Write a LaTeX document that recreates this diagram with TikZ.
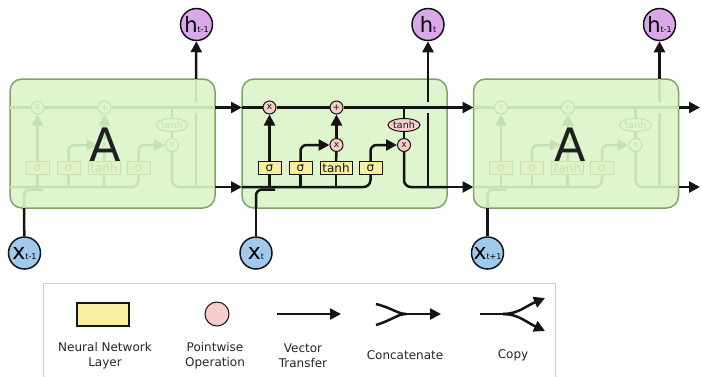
\documentclass[tikz,border=0pt]{standalone}
\usepackage{fontspec}
\setmainfont{DejaVu Sans}
\usetikzlibrary{arrows.meta,shapes.geometric}
\definecolor{blockfill}{RGB}{222,245,206}
\definecolor{blockdraw}{RGB}{125,165,105}
\definecolor{boxyellow}{RGB}{246,240,160}
\definecolor{pinkc}{RGB}{248,205,205}
\definecolor{hpurple}{RGB}{218,168,234}
\definecolor{xblue}{RGB}{160,202,236}
\definecolor{fadeln}{RGB}{198,226,180}
\definecolor{fadebox}{RGB}{226,242,198}
\definecolor{legdraw}{RGB}{205,205,205}
\definecolor{darkline}{RGB}{20,20,20}
\colorlet{lc}{darkline}
\colorlet{bf}{boxyellow}
\colorlet{cf}{pinkc}
\tikzset{
  ln/.style={line width=2.5pt, draw=lc},
  arr/.style={ln, -{Triangle[length=11pt,width=11pt]}},
  cellblk/.style={draw=blockdraw, fill=blockfill, line width=1.5pt, rounded corners=12pt,
    minimum width=205pt, minimum height=129pt, inner sep=0pt},
  nnlayer/.style={draw=lc, fill=bf, line width=1pt, minimum height=13pt, inner sep=0pt,
    text=lc, font=\fontsize{12}{12}\selectfont},
  pw/.style={circle, draw=lc, fill=cf, line width=1pt, minimum size=13pt, inner sep=0pt,
    text=lc, font=\fontsize{9}{9}\selectfont},
  tanhell/.style={ellipse, draw=lc, fill=cf, line width=1pt, minimum width=32pt,
    minimum height=13pt, inner sep=0pt, text=lc, font=\fontsize{9.5}{9.5}\selectfont},
  hcirc/.style={circle, draw=darkline, fill=hpurple, line width=1.5pt, minimum size=32pt, inner sep=0pt},
  xcirc/.style={circle, draw=darkline, fill=xblue, line width=1.5pt, minimum size=32pt, inner sep=0pt},
  bigA/.style={font=\fontsize{46}{46}\selectfont, text=black!88, inner sep=0pt},
  lgtext/.style={align=center, font=\fontsize{12}{15}\selectfont, text=black!85},
}
\newcommand\lstmcellbody{%
  \node[cellblk] (blk) at (344.5,143.5) {};
  \coordinate (tin) at (242,107.5);
  \coordinate (tout) at (447,107.5);
  \coordinate (bin) at (242,187);
  \coordinate (bout) at (447,187);
  \coordinate (xin) at (256,208);
  \coordinate (hout) at (428,79);
  \coordinate (hbot) at (428,187);
  \coordinate (crossA) at (428,113);
  \coordinate (crossB) at (428,102);
  \coordinate (tap) at (404,107.5);
  \node[nnlayer, minimum width=23pt] (sf) at (269.5,168) {σ};
  \node[nnlayer, minimum width=23pt] (si) at (300.5,168) {σ};
  \node[nnlayer, minimum width=32pt] (tg) at (336,168) {tanh};
  \node[nnlayer, minimum width=23pt] (so) at (370.5,168) {σ};
  \node[pw] (mf) at (269.5,107.5) {x};
  \node[pw] (ad) at (336.5,107.5) {+};
  \node[pw] (mi) at (336.5,145) {x};
  \node[pw] (mo) at (404,145) {x};
  \node[tanhell] (tc) at (404,125) {tanh};
  \draw[ln] (tin) -- (mf) -- (ad) -- (tout);
  \draw[ln] (tap) -- (tc);
  \draw[ln] (tc) -- (mo);
  \draw[ln, rounded corners=7pt] (mo) -- (mo |- bout) -- (bout);
  \draw[ln] (hbot) -- (crossA);
  \draw[ln] (crossB) -- (hout);
  \draw[ln, rounded corners=7pt] (bin) -- (so.south |- bin) -- (so.south);
  \draw[ln, rounded corners=6pt] (xin) -- (256,189.5) -- (275,189.5);
  \draw[ln] (sf.south |- bin) -- (sf);
  \draw[ln] (si.south |- bin) -- (si);
  \draw[ln] (tg.south |- bin) -- (tg);
  \draw[arr] (sf) -- (mf);
  \draw[arr, rounded corners=6pt] (si.north) -- (si.north |- mi) -- (mi.west);
  \draw[ln] (tg) -- (mi);
  \draw[arr] (mi) -- (ad);
  \draw[arr, rounded corners=6pt] (so.north) -- (so.north |- mo) -- (mo.west);
}
\begin{document}
\begin{tikzpicture}[x=1pt,y=-1pt]
\useasboundingbox (0,0) rectangle (701,376);
\fill[white] (0,0) rectangle (701,376);
% left cell (faded)
\begin{scope}[name prefix=L-, shift={(-232,0)}]
  \colorlet{lc}{fadeln}\colorlet{bf}{fadebox}\colorlet{cf}{blockfill}
  \lstmcellbody
  \node[bigA] (A) at (337,145) {A};
\end{scope}
% middle cell
\begin{scope}[name prefix=M-]
  \lstmcellbody
\end{scope}
% right cell (faded)
\begin{scope}[name prefix=R-, shift={(231.5,0)}]
  \colorlet{lc}{fadeln}\colorlet{bf}{fadebox}\colorlet{cf}{blockfill}
  \lstmcellbody
  \node[bigA] (A) at (339,145) {A};
\end{scope}
% inputs and outputs
\node[hcirc] (hL) at (196.5,24.5) {{\fontsize{21}{21}\selectfont h}{\fontsize{8}{8}\selectfont t-1}};
\node[hcirc] (hM) at (428,24.5) {{\fontsize{21}{21}\selectfont h}{\fontsize{8}{8}\selectfont t}};
\node[hcirc] (hR) at (659.5,24.5) {{\fontsize{21}{21}\selectfont h}{\fontsize{8}{8}\selectfont t-1}};
\node[xcirc] (xL) at (24.5,253) {{\fontsize{22}{22}\selectfont x}{\fontsize{8}{8}\selectfont t-1}};
\node[xcirc] (xM) at (256,253) {{\fontsize{22}{22}\selectfont x}{\fontsize{8}{8}\selectfont t}};
\node[xcirc] (xR) at (487.5,253) {{\fontsize{22}{22}\selectfont x}{\fontsize{8}{8}\selectfont t+1}};
\coordinate (oT) at (700,107.5);
\coordinate (oB) at (700,187);
\draw[ln] (xL) -- (L-xin);
\draw[ln] (xM) -- (M-xin);
\draw[ln] (xR) -- (R-xin);
\draw[arr] (L-hout) -- (hL);
\draw[arr] (M-hout) -- (hM);
\draw[arr] (R-hout) -- (hR);
\draw[arr] (L-tout) -- (M-tin);
\draw[arr] (L-bout) -- (M-bin);
\draw[arr] (M-tout) -- (R-tin);
\draw[arr] (M-bout) -- (R-bin);
\draw[arr] (R-tout) -- (oT);
\draw[arr] (R-bout) -- (oB);
% legend
\node[draw=legdraw, line width=1pt, minimum width=511.5pt, minimum height=120pt, anchor=north west, inner sep=0pt] (legend) at (43,282.5) {};
\node[draw=darkline, fill=boxyellow, line width=1.5pt, minimum width=52pt, minimum height=23pt, inner sep=0pt] (lgL) at (103,314.5) {};
\node[circle, draw=darkline, fill=pinkc, line width=1pt, minimum size=24pt, inner sep=0pt] (lgP) at (217,314) {};
\coordinate (va) at (277,314);
\coordinate (vb) at (341,314);
\draw[arr] (va) -- (vb);
\coordinate (c1) at (376,304);
\coordinate (c2) at (376,325);
\coordinate (cm) at (406,314);
\coordinate (ce) at (441,314);
\draw[ln] (c1) .. controls (392,308) and (398,314) .. (cm);
\draw[ln] (c2) .. controls (392,320) and (398,314) .. (cm);
\draw[arr] (cm) -- (ce);
\coordinate (k0) at (480,314);
\coordinate (km) at (503,314);
\coordinate (k1) at (545,298);
\coordinate (k2) at (545,331);
\draw[ln] (k0) -- (km);
\draw[arr] (km) .. controls (518,314) and (526,306) .. (k1);
\draw[arr] (km) .. controls (518,314) and (526,322) .. (k2);
\node[lgtext] (t1) at (105,355.5) {Neural Network\\Layer};
\node[lgtext] (t2) at (215,355.5) {Pointwise\\Operation};
\node[lgtext] (t3) at (303,355.5) {Vector\\Transfer};
\node[lgtext] (t4) at (405,355) {Concatenate};
\node[lgtext] (t5) at (513,355) {Copy};
\end{tikzpicture}
\end{document}
